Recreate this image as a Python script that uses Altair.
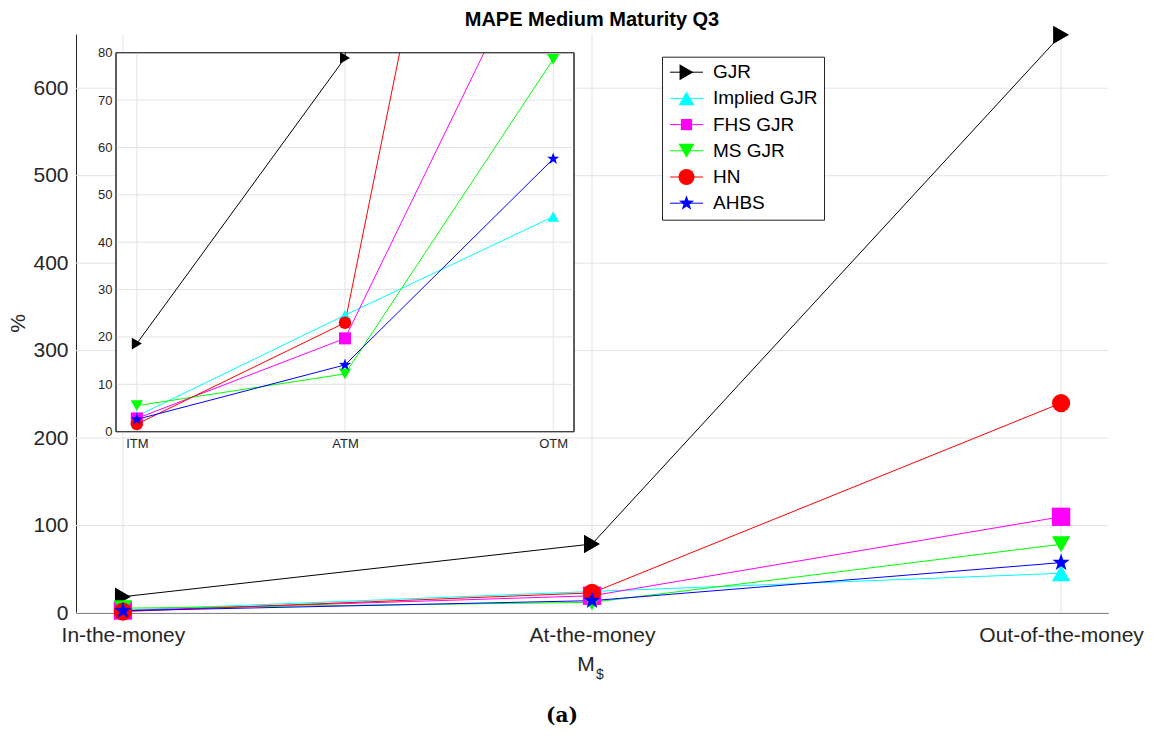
import json
import math
import altair as alt
import pandas as pd

# ---------------- data ----------------
SERIES = ["GJR", "Implied GJR", "FHS GJR", "MS GJR", "HN", "AHBS"]
CATEGORIES = ["In-the-money", "At-the-money", "Out-of-the-money"]
INSET_CATEGORIES = ["ITM", "ATM", "OTM"]
POSITIONS = [0, 1, 2]

GJR = [18.6, 78.9, 661.0]
IMPLIED_GJR = [3.3, 24.6, 45.4]
FHS_GJR = [2.8, 19.7, 110.0]
MS_GJR = [5.5, 12.2, 78.6]
HN = [1.6, 23.0, 240.0]
AHBS = [2.6, 14.1, 57.6]

MAIN_Y_TICKS = [0, 100, 200, 300, 400, 500, 600]
INSET_Y_TICKS = [0, 10, 20, 30, 40, 50, 60, 70, 80]
X_DOMAIN = [-0.1, 2.1]
MAIN_Y_DOMAIN = [0, 662]
INSET_Y_DOMAIN = [0, 80]

# ---------------- styles ----------------
COLORS = ["#000000", "#00FFFF", "#FF00FF", "#00FF00", "#FF0000", "#0000FF"]


def star_path(inner=0.4):
    pts = []
    for k in range(10):
        a = -math.pi / 2 + k * math.pi / 5
        r = 1.0 if k % 2 == 0 else inner
        pts.append(f"{r * math.cos(a):.4f},{r * math.sin(a):.4f}")
    return "M" + " L".join(pts) + " Z"


STAR = star_path()
SMALL_SQUARE = "M-0.7,-0.7 L0.7,-0.7 L0.7,0.7 L-0.7,0.7 Z"
SHAPES = ["triangle-right", "triangle-up", "square", "triangle-down", "circle", STAR]
LEGEND_SHAPES = ["triangle-right", "triangle-up", SMALL_SQUARE, "triangle-down", "circle", STAR]
MAIN_SIZES = [340, 330, 110, 330, 225, 190]
INSET_SIZES = [135, 160, 70, 185, 105, 105]
LINE_PATH = "M-2.0625,0 L2.0625,0"
GRID = "#e3e3e3"
AXC = "#262626"
FONT = "Liberation Sans"

# ---------------- layout (pixels) ----------------
W, H = 458, 379           # inset box = plot area
PAD = {"left": 116, "top": 52.7, "right": 582, "bottom": 304.3}
MAIN_X_RANGE = [-40, 992]
MAIN_Y_RANGE = [560.3, -18.7]

values = {"GJR": GJR, "Implied GJR": IMPLIED_GJR, "FHS GJR": FHS_GJR,
          "MS GJR": MS_GJR, "HN": HN, "AHBS": AHBS}
rows = []
for s in SERIES:
    for p, v in zip(POSITIONS, values[s]):
        rows.append({"series": s, "pos": p, "value": v})
df = pd.DataFrame(rows)

color_scale = alt.Scale(domain=SERIES, range=COLORS)
shape_scale = alt.Scale(domain=SERIES, range=SHAPES)

# ---------------- main chart ----------------
sx_main = alt.Scale(domain=X_DOMAIN, range=MAIN_X_RANGE, nice=False, zero=False)
sy_main = alt.Scale(domain=MAIN_Y_DOMAIN, range=MAIN_Y_RANGE, nice=False, zero=False)

ax_main_x = alt.Axis(
    orient="bottom", offset=181.3, values=POSITIONS,
    labelExpr=f"{json.dumps(CATEGORIES)}[datum.value]",
    grid=False, ticks=False, domainColor=AXC, domainWidth=1,
    labelFont=FONT, labelFontSize=21, labelColor=AXC, labelPadding=11,
    labelOverlap=False, labelFlush=False, labelBound=False,
    title="M", titleFont=FONT, titleFontSize=21, titleFontWeight="normal",
    titleColor=AXC, titleX=469.5, titleY=57, titleAlign="center",
    titleBaseline="alphabetic", zindex=0,
)
ax_main_y = alt.Axis(
    orient="left", offset=40, values=MAIN_Y_TICKS,
    grid=False, ticks=False, domainColor=AXC, domainWidth=1,
    labelFont=FONT, labelFontSize=21, labelColor=AXC, labelPadding=8,
    labelOverlap=False, labelFlush=False, labelBound=False,
    title="%", titleFont=FONT, titleFontSize=21, titleFontWeight="normal",
    titleColor=AXC, titleX=-58, titleY=270.3, titleAngle=270,
    titleAlign="center", titleBaseline="middle", zindex=0,
)

vgrid_main = alt.Chart(pd.DataFrame({"p": POSITIONS, "lo": MAIN_Y_DOMAIN[0], "hi": MAIN_Y_DOMAIN[1]})).mark_rule(
    color=GRID, strokeWidth=1).encode(
    x=alt.X("p:Q", scale=sx_main, axis=ax_main_x),
    y=alt.Y("lo:Q", scale=sy_main, axis=ax_main_y),
    y2="hi:Q",
)
hgrid_main = alt.Chart(pd.DataFrame({"v": MAIN_Y_TICKS, "x0": X_DOMAIN[0], "x1": X_DOMAIN[1]})).mark_rule(
    color=GRID, strokeWidth=1).encode(
    x=alt.X("x0:Q", scale=sx_main, axis=ax_main_x),
    x2="x1:Q",
    y=alt.Y("v:Q", scale=sy_main, axis=ax_main_y),
)
main_lines = alt.Chart(df).mark_line(strokeWidth=1).encode(
    x=alt.X("pos:Q", scale=sx_main, axis=ax_main_x),
    y=alt.Y("value:Q", scale=sy_main, axis=ax_main_y),
    color=alt.Color("series:N", scale=color_scale, legend=None),
)
main_points = alt.Chart(df).mark_point(filled=True, opacity=1).encode(
    x=alt.X("pos:Q", scale=sx_main, axis=ax_main_x),
    y=alt.Y("value:Q", scale=sy_main, axis=ax_main_y),
    color=alt.Color("series:N", scale=color_scale, legend=None),
    shape=alt.Shape("series:N", scale=shape_scale, legend=None),
    size=alt.Size("series:N", scale=alt.Scale(domain=SERIES, range=MAIN_SIZES), legend=None),
)
sub_label = alt.Chart(pd.DataFrame({"t": ["$"]})).mark_text(
    font=FONT, fontSize=14, color=AXC, align="center", baseline="alphabetic").encode(
    text="t:N", x=alt.value(484), y=alt.value(626.3))
caption = alt.Chart(pd.DataFrame({"t": ["(a)"]})).mark_text(
    font="DejaVu Serif", fontSize=20, fontWeight="bold", color="#000000",
    align="center", baseline="alphabetic").encode(
    text="t:N", x=alt.value(446), y=alt.value(669.3))

main = alt.layer(vgrid_main, hgrid_main, main_lines, main_points, sub_label, caption)

# ---------------- inset chart ----------------
sx_in = alt.Scale(domain=X_DOMAIN, nice=False, zero=False)
sy_in = alt.Scale(domain=INSET_Y_DOMAIN, nice=False, zero=False)
ax_in_x = alt.Axis(
    orient="bottom", values=POSITIONS,
    labelExpr=f"{json.dumps(INSET_CATEGORIES)}[datum.value]",
    grid=False, ticks=False, domain=False,
    labelFont=FONT, labelFontSize=13, labelColor=AXC, labelPadding=6,
    labelOverlap=False, labelFlush=False, labelBound=False,
    title=None, zindex=1,
)
ax_in_y = alt.Axis(
    orient="left", values=INSET_Y_TICKS,
    grid=False, ticks=False, domain=False,
    labelFont=FONT, labelFontSize=13, labelColor=AXC, labelPadding=4,
    labelOverlap=False, labelFlush=False, labelBound=False,
    title=None, zindex=1,
)
frame_df = pd.DataFrame({"x0": [X_DOMAIN[0]], "x1": [X_DOMAIN[1]],
                         "y0": [INSET_Y_DOMAIN[0]], "y1": [INSET_Y_DOMAIN[1]]})
frame_bg = alt.Chart(frame_df).mark_rect(fill="white", stroke=AXC, strokeWidth=1).encode(
    x=alt.X("x0:Q", scale=sx_in, axis=ax_in_x), x2="x1:Q",
    y=alt.Y("y0:Q", scale=sy_in, axis=ax_in_y), y2="y1:Q",
)
frame_top = alt.Chart(frame_df).mark_rect(fillOpacity=0, stroke=AXC, strokeWidth=1).encode(
    x=alt.X("x0:Q", scale=sx_in, axis=ax_in_x), x2="x1:Q",
    y=alt.Y("y0:Q", scale=sy_in, axis=ax_in_y), y2="y1:Q",
)
vgrid_in = alt.Chart(pd.DataFrame({"p": POSITIONS, "lo": INSET_Y_DOMAIN[0], "hi": INSET_Y_DOMAIN[1]})).mark_rule(
    color=GRID, strokeWidth=1).encode(
    x=alt.X("p:Q", scale=sx_in, axis=ax_in_x),
    y=alt.Y("lo:Q", scale=sy_in, axis=ax_in_y), y2="hi:Q",
)
hgrid_in = alt.Chart(pd.DataFrame({"v": INSET_Y_TICKS, "x0": X_DOMAIN[0], "x1": X_DOMAIN[1]})).mark_rule(
    color=GRID, strokeWidth=1).encode(
    x=alt.X("x0:Q", scale=sx_in, axis=ax_in_x), x2="x1:Q",
    y=alt.Y("v:Q", scale=sy_in, axis=ax_in_y),
)
inset_lines = alt.Chart(df).mark_line(strokeWidth=1, clip=True).encode(
    x=alt.X("pos:Q", scale=sx_in, axis=ax_in_x),
    y=alt.Y("value:Q", scale=sy_in, axis=ax_in_y),
    color=alt.Color("series:N", scale=color_scale, legend=None),
)
inset_points = alt.Chart(df).transform_filter(
    alt.datum.value <= INSET_Y_DOMAIN[1]).mark_point(filled=True, opacity=1).encode(
    x=alt.X("pos:Q", scale=sx_in, axis=ax_in_x),
    y=alt.Y("value:Q", scale=sy_in, axis=ax_in_y),
    color=alt.Color("series:N", scale=color_scale, legend=None),
    shape=alt.Shape("series:N", scale=shape_scale, legend=None),
    size=alt.Size("series:N", scale=alt.Scale(domain=SERIES, range=INSET_SIZES), legend=None),
)
inset = alt.layer(frame_bg, vgrid_in, hgrid_in, inset_lines, inset_points, frame_top)

# ---------------- legend (line + marker, two stacked legends) ----------------
leg_common = dict(
    orient="none", legendX=546, legendY=4, padding=6, symbolSize=256,
    symbolOffset=9, labelOffset=17, rowPadding=6.2, title=None,
    labelFont=FONT, labelFontSize=19, labelColor="#000000", labelLimit=400,
    symbolOpacity=1,
)
series_df = pd.DataFrame({"series": SERIES})
leg_lines = alt.Chart(series_df).mark_point(opacity=0, filled=False).encode(
    color=alt.Color("series:N", scale=alt.Scale(domain=SERIES, range=COLORS),
                    legend=alt.Legend(symbolType=LINE_PATH, symbolStrokeWidth=1,
                                      labelOpacity=0, fillColor="white",
                                      strokeColor=AXC, **leg_common)),
)
leg_marks_legend = alt.Legend(symbolStrokeWidth=0, **leg_common)
leg_marks = alt.Chart(series_df).mark_point(opacity=0, filled=True).encode(
    color=alt.Color("series:N", scale=alt.Scale(domain=SERIES, range=COLORS),
                    legend=leg_marks_legend),
    shape=alt.Shape("series:N", scale=alt.Scale(domain=SERIES, range=LEGEND_SHAPES),
                    legend=leg_marks_legend),
)

chart = alt.layer(leg_lines, leg_marks, main, inset).resolve_scale(
    x="independent", y="independent", color="independent",
    shape="independent", size="independent",
).resolve_axis(x="independent", y="independent").resolve_legend(
    color="independent", shape="independent", size="independent",
).properties(
    width=W, height=H,
    autosize=alt.AutoSizeParams(type="none"),
    padding=PAD,
    background="white",
    title=alt.TitleParams(
        text="MAPE Medium Maturity Q3", anchor="middle", frame="group",
        dx=247, dy=6, offset=2, font=FONT, fontSize=20, fontWeight="bold",
        color="#000000",
    ),
).configure_view(stroke=None)

chart.save("out.html", embed_options={"renderer": "svg", "actions": False})
